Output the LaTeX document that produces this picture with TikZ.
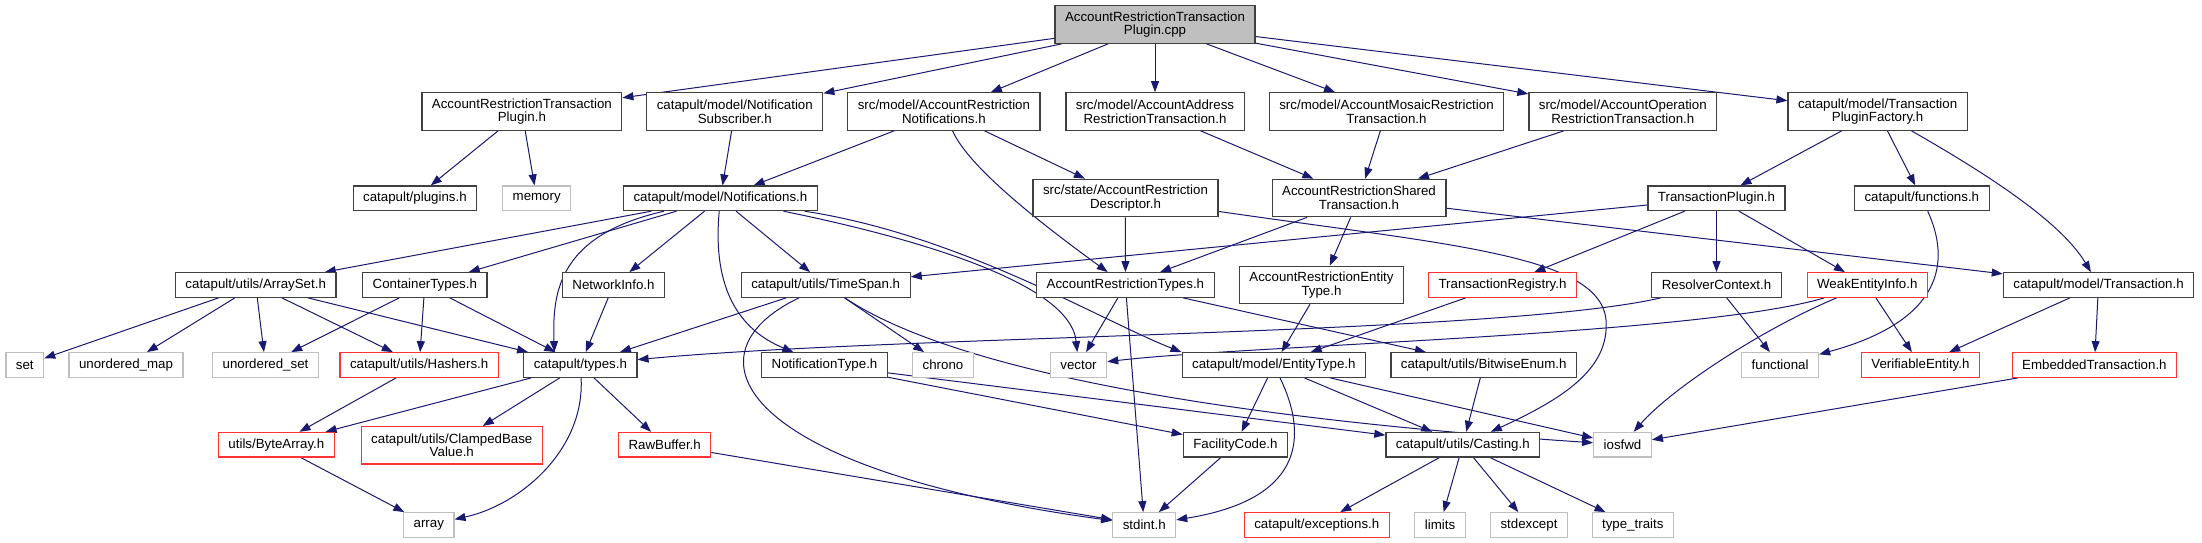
\documentclass[tikz,border=0pt]{standalone}
\usepackage{fontspec}
\setmainfont{Liberation Sans}
\usepackage{xcolor}
\definecolor{edgeblue}{RGB}{25, 25, 112}
\definecolor{boxgray}{RGB}{191, 191, 191}
\definecolor{boxdark}{RGB}{64, 64, 64}
\definecolor{boxred}{RGB}{255, 51, 51}
\usepackage{tikz}
\usetikzlibrary{arrows.meta, positioning, calc}
\pgfdeclarelayer{edges}
\pgfsetlayers{edges,main}

\tikzset{
  filebox/.style={rectangle, align=center, inner xsep=10pt, inner ysep=4pt,
    minimum height=24.6pt, line width=1.2pt, fill=white,
    font=\fontsize{13.3}{13.6}\selectfont},
  docfile/.style={filebox, draw=boxdark},
  extfile/.style={filebox, draw=boxgray},
  cutfile/.style={filebox, draw=boxred},
  rootfile/.style={filebox, draw=boxdark, fill=boxgray},
  tall/.style={minimum height=37.5pt},
  incl/.style={draw=edgeblue, line width=1pt, -{Triangle[length=11pt,width=8pt]}}
}

\begin{document}
\begin{tikzpicture}[x=1pt, y=-1pt]
  \useasboundingbox (0,0) rectangle (2202,543);

  % Root
  \node[rootfile, tall] (root) at (1155,24.5) {AccountRestrictionTransaction\\Plugin.cpp};

  % Row 1
  \node[docfile, tall] (artPlugin) at (521.9,111.5) {AccountRestrictionTransaction\\Plugin.h};
  \node[docfile, tall] (notifSub) at (734.8,111.5) {catapult/model/Notification\\Subscriber.h};
  \node[docfile, tall] (arNotif) at (943.9,111.5) {src/model/AccountRestriction\\Notifications.h};
  \node[docfile, tall] (addrTx) at (1155,111.5) {src/model/AccountAddress\\RestrictionTransaction.h};
  \node[docfile, tall] (mosaicTx) at (1386.5,111.5) {src/model/AccountMosaicRestriction\\Transaction.h};
  \node[docfile, tall] (operTx) at (1622.8,111.5) {src/model/AccountOperation\\RestrictionTransaction.h};
  \node[docfile, tall] (txPluginFactory) at (1877.6,111.5) {catapult/model/Transaction\\PluginFactory.h};

  % Row 2
  \node[docfile] (pluginsH) at (414.9,198.3) {catapult/plugins.h};
  \node[extfile] (memory) at (536.7,198.3) {memory};
  \node[docfile] (modelNotif) at (720.4,198.3) {catapult/model/Notifications.h};
  \node[docfile, tall] (descriptor) at (1125.5,198) {src/state/AccountRestriction\\Descriptor.h};
  \node[docfile, tall] (sharedTx) at (1359,198) {AccountRestrictionShared\\Transaction.h};
  \node[docfile] (txPlugin) at (1716.5,198.3) {TransactionPlugin.h};
  \node[docfile] (functionsH) at (1921.8,198.3) {catapult/functions.h};

  % Row 3
  \node[docfile] (arraySet) at (255.7,285) {catapult/utils/ArraySet.h};
  \node[docfile] (containerTypes) at (424.8,285) {ContainerTypes.h};
  \node[docfile] (networkInfo) at (613.5,285) {NetworkInfo.h};
  \node[docfile] (timeSpan) at (825.7,285) {catapult/utils/TimeSpan.h};
  \node[docfile] (arTypes) at (1125.4,285) {AccountRestrictionTypes.h};
  \node[docfile, tall] (arEntityType) at (1321.5,285) {AccountRestrictionEntity\\Type.h};
  \node[cutfile] (txRegistry) at (1502.5,285) {TransactionRegistry.h};
  \node[docfile] (resolverCtx) at (1716.5,285) {ResolverContext.h};
  \node[cutfile] (weakEntity) at (1867.3,285) {WeakEntityInfo.h};
  \node[docfile] (modelTx) at (2098.5,285) {catapult/model/Transaction.h};

  % Row 4
  \node[extfile] (set) at (24.8,365) {set};
  \node[extfile] (unorderedMap) at (126,365) {unordered\_map};
  \node[extfile] (unorderedSet) at (265.5,365) {unordered\_set};
  \node[cutfile] (hashers) at (419.2,365) {catapult/utils/Hashers.h};
  \node[docfile] (types) at (580.4,365) {catapult/types.h};
  \node[docfile] (notifType) at (824.5,365) {NotificationType.h};
  \node[extfile] (chrono) at (943,365) {chrono};
  \node[extfile] (vector) at (1078.5,365) {vector};
  \node[docfile] (entityType) at (1273.8,365) {catapult/model/EntityType.h};
  \node[docfile] (bitwiseEnum) at (1483.7,365) {catapult/utils/BitwiseEnum.h};
  \node[extfile] (functional) at (1780.1,365) {functional};
  \node[cutfile] (verifiable) at (1920.4,365) {VerifiableEntity.h};
  \node[cutfile] (embeddedTx) at (2094.4,365) {EmbeddedTransaction.h};

  % Row 5
  \node[cutfile] (byteArray) at (276.4,444.7) {utils/ByteArray.h};
  \node[cutfile, tall] (clampedBase) at (451.8,445.3) {catapult/utils/ClampedBase\\Value.h};
  \node[cutfile] (rawBuffer) at (664.7,444.7) {RawBuffer.h};
  \node[docfile] (facilityCode) at (1235.4,444.7) {FacilityCode.h};
  \node[docfile] (casting) at (1462.8,444.7) {catapult/utils/Casting.h};
  \node[extfile] (iosfwd) at (1622.5,444.7) {iosfwd};

  % Row 6
  \node[extfile] (array) at (428.8,525) {array};
  \node[extfile] (stdint) at (1144.2,525) {stdint.h};
  \node[cutfile] (exceptions) at (1316.8,525) {catapult/exceptions.h};
  \node[extfile] (limits) at (1440,525) {limits};
  \node[extfile] (stdexcept) at (1529,525) {stdexcept};
  \node[extfile] (typeTraits) at (1632.8,525) {type\_traits};

  \begin{pgfonlayer}{edges}
  % Includes of the root file
  \foreach \dst in {artPlugin, notifSub, arNotif, addrTx, mosaicTx, operTx, txPluginFactory}
    \draw[incl] (root) -- (\dst);

  % Row 1 includes
  \draw[incl] (artPlugin) -- (pluginsH);
  \draw[incl] (artPlugin) -- (memory);
  \draw[incl] (notifSub) -- (modelNotif);
  \draw[incl] (arNotif) -- (modelNotif);
  \draw[incl] (arNotif) -- (descriptor);
  \draw[incl] (arNotif) .. controls (970,170) and (1050,230) .. (arTypes);
  \foreach \src in {addrTx, mosaicTx, operTx}
    \draw[incl] (\src) -- (sharedTx);
  \draw[incl] (txPluginFactory) -- (txPlugin);
  \draw[incl] (txPluginFactory) -- (functionsH);
  \draw[incl] (txPluginFactory) .. controls (1980,170) and (2060,220) .. (modelTx);

  % Row 2 includes
  \draw[incl] (modelNotif) -- (arraySet);
  \draw[incl] (modelNotif) -- (containerTypes);
  \draw[incl] (modelNotif) -- (networkInfo);
  \draw[incl] (modelNotif) -- (timeSpan);
  \draw[incl] (modelNotif) .. controls (560,235) and (552,290) .. ([xshift=-26pt]types.north);
  \draw[incl] (modelNotif) .. controls (712,290) and (740,330) .. (notifType);
  \draw[incl] (modelNotif) .. controls (900,235) and (1070,280) .. (vector);
  \draw[incl] (modelNotif) .. controls (960,235) and (1100,320) .. (entityType.north west);
  \draw[incl] (descriptor) -- (arTypes);
  \draw[incl] (descriptor) .. controls (1450,245) and (1600,255) .. (1606,320)
    .. controls (1610,370) and (1560,400) .. (casting);
  \draw[incl] (sharedTx) -- (arTypes);
  \draw[incl] (sharedTx) -- (arEntityType);
  \draw[incl] (sharedTx) -- (modelTx);
  \draw[incl] (txPlugin) -- (timeSpan);
  \draw[incl] (txPlugin) -- (txRegistry);
  \draw[incl] (txPlugin) -- (resolverCtx);
  \draw[incl] (txPlugin) -- (weakEntity);
  \draw[incl] (functionsH) .. controls (1950,260) and (1945,320) .. (functional);

  % Row 3 includes
  \foreach \dst in {set, unorderedMap, unorderedSet, hashers, types}
    \draw[incl] (arraySet) -- (\dst);
  \foreach \dst in {unorderedSet, hashers, types}
    \draw[incl] (containerTypes) -- (\dst);
  \draw[incl] (networkInfo) -- (types);
  \draw[incl] (timeSpan) -- (types);
  \draw[incl] (timeSpan) -- (chrono);
  \draw[incl] (timeSpan) .. controls (680,355) and (740,470) .. (stdint);
  \draw[incl] (timeSpan) .. controls (960,375) and (1250,420) .. (iosfwd);
  \draw[incl] (arTypes) -- (vector);
  \draw[incl] (arTypes) -- (stdint);
  \draw[incl] (arTypes) -- (bitwiseEnum);
  \draw[incl] (arEntityType) -- (entityType);
  \draw[incl] (txRegistry) -- (entityType);
  \draw[incl] (resolverCtx) .. controls (1500,335) and (900,335) .. (types);
  \draw[incl] (resolverCtx) -- (functional);
  \draw[incl] (weakEntity) .. controls (1700,335) and (1250,345) .. (vector);
  \draw[incl] (weakEntity) -- (verifiable);
  \draw[incl] (weakEntity) .. controls (1760,330) and (1670,390) .. (iosfwd);
  \draw[incl] (modelTx) -- (verifiable);
  \draw[incl] (modelTx) -- (embeddedTx);

  % Row 4 includes
  \draw[incl] (hashers) -- (byteArray);
  \draw[incl] (types) -- (byteArray);
  \draw[incl] (types) -- (clampedBase);
  \draw[incl] (types) -- (rawBuffer);
  \draw[incl] (types) .. controls (585,450) and (520,505) .. (array);
  \draw[incl] (notifType) -- (facilityCode);
  \draw[incl] (notifType) -- (casting);
  \draw[incl] (entityType) -- (facilityCode);
  \draw[incl] (entityType) .. controls (1310,440) and (1300,500) .. (stdint);
  \draw[incl] (entityType) -- (casting);
  \draw[incl] (entityType) -- (iosfwd);
  \draw[incl] (bitwiseEnum) -- (casting);
  \draw[incl] (embeddedTx) -- (iosfwd);

  % Row 5 includes
  \draw[incl] (byteArray) -- (array);
  \draw[incl] (rawBuffer) -- (stdint);
  \draw[incl] (facilityCode) -- (stdint);
  \foreach \dst in {exceptions, limits, stdexcept, typeTraits}
    \draw[incl] (casting) -- (\dst);
  \end{pgfonlayer}

\end{tikzpicture}
\end{document}
